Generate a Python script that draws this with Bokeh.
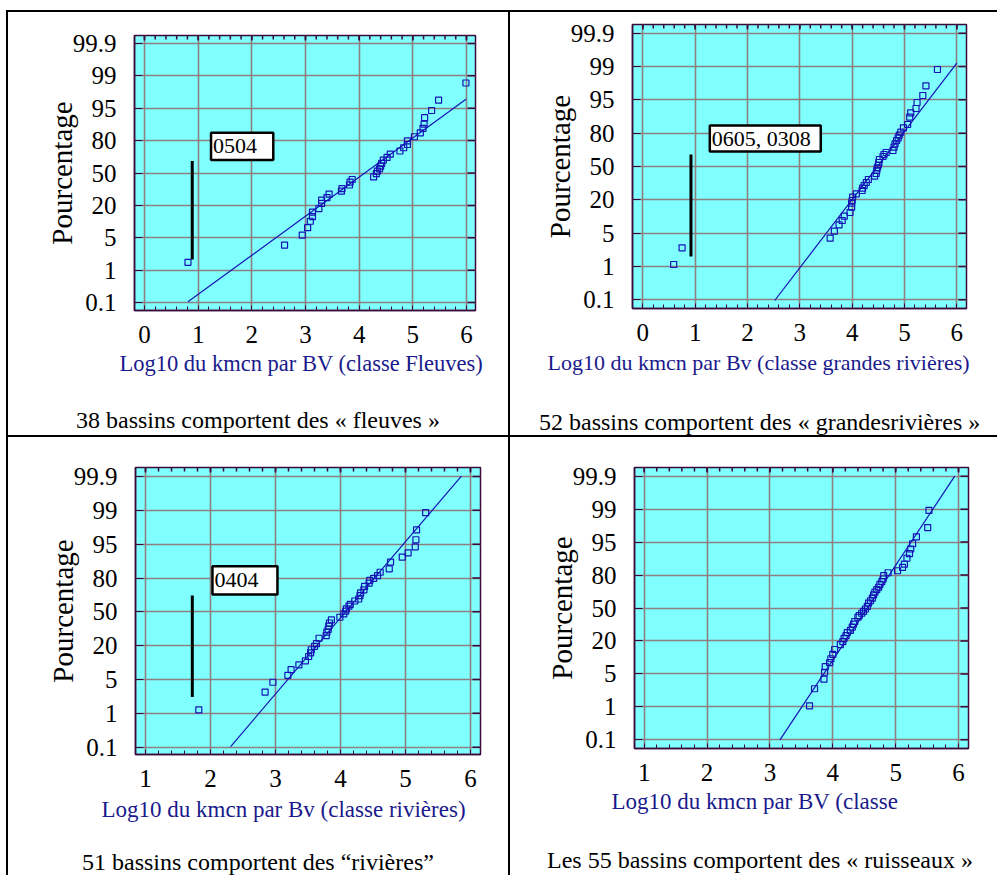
import numpy as np
from bokeh.plotting import figure
from bokeh.models import Range1d, FixedTicker, Title, Div, Spacer
from bokeh.layouts import column, row
from bokeh.embed import file_html
from bokeh.resources import INLINE
from bokeh.core.properties import value

# ---------------- data ----------------
# probability-paper axis: evenly spaced percentage ticks (position 0 .. 8)
prob_ticks = [0, 1, 2, 3, 4, 5, 6, 7, 8]
prob_labels = ["0.1", "1", "5", "20", "50", "80", "95", "99", "99.9"]

# Fleuves
fleuves_x = [0.81, 2.61, 2.94, 3.04, 3.09, 3.13, 3.13, 3.25, 3.30, 3.30, 3.40, 3.44, 3.67, 3.68,
             3.82, 3.83, 3.87, 4.27, 4.32, 4.34, 4.38, 4.40, 4.42, 4.45, 4.52, 4.58, 4.76, 4.83,
             4.90, 4.90, 5.03, 5.14, 5.19, 5.21, 5.22, 5.35, 5.48, 5.99]
fleuves_p = [1.24, 1.77, 2.08, 2.31, 2.51, 2.65, 2.79, 2.90, 3.06, 3.16, 3.24, 3.35, 3.44, 3.52,
             3.63, 3.72, 3.80, 3.88, 3.98, 4.06, 4.13, 4.21, 4.30, 4.40, 4.48, 4.58, 4.68, 4.78,
             4.88, 4.99, 5.12, 5.24, 5.38, 5.51, 5.71, 5.93, 6.25, 6.78]
fleuves_fit_x = [0.81, 5.99]
fleuves_fit_p = [0.02, 6.28]
fleuves_bar_x = [0.89, 0.89]
fleuves_bar_p = [1.33, 4.37]
fleuves_note = "0504"
fleuves_note_box = [1.24, 2.40, 4.40, 5.24]   # left, right, bottom, top

# Grandes rivieres
grandes_x = [0.59, 0.75, 3.58, 3.66, 3.75, 3.81, 3.85, 3.96, 3.99, 3.99, 4.00, 4.01, 4.08, 4.19,
             4.20, 4.23, 4.27, 4.31, 4.43, 4.46, 4.47, 4.48, 4.50, 4.51, 4.52, 4.59, 4.61, 4.65,
             4.78, 4.80, 4.82, 4.85, 4.88, 4.90, 4.93, 4.98, 5.06, 5.10, 5.12, 5.22, 5.24, 5.35,
             5.41, 5.63]
grandes_p = [1.06, 1.56, 1.85, 2.06, 2.25, 2.38, 2.51, 2.62, 2.78, 2.90, 2.98, 3.08, 3.18, 3.28,
             3.35, 3.43, 3.52, 3.61, 3.71, 3.79, 3.88, 3.96, 4.04, 4.12, 4.21, 4.30, 4.36, 4.42,
             4.48, 4.58, 4.68, 4.78, 4.86, 4.94, 5.03, 5.16, 5.26, 5.48, 5.61, 5.74, 5.92, 6.13,
             6.42, 6.91]
grandes_fit_x = [2.52, 6.00]
grandes_fit_p = [-0.02, 7.10]
grandes_bar_x = [0.92, 0.92]
grandes_bar_p = [1.30, 4.36]
grandes_note = "0605, 0308"
grandes_note_box = [1.28, 3.40, 4.45, 5.23]

# Rivieres
rivieres_x = [1.82, 2.84, 2.96, 3.19, 3.24, 3.36, 3.46, 3.51, 3.54, 3.55, 3.60, 3.63, 3.67, 3.78,
              3.79, 3.81, 3.82, 3.83, 3.86, 3.99, 4.05, 4.08, 4.09, 4.13, 4.15, 4.22, 4.28, 4.30,
              4.31, 4.36, 4.37, 4.44, 4.45, 4.51, 4.57, 4.61, 4.75, 4.77, 4.95, 5.04, 5.15, 5.16,
              5.17, 5.31]
rivieres_p = [1.10, 1.63, 1.92, 2.12, 2.29, 2.43, 2.55, 2.68, 2.79, 2.88, 2.98, 3.06, 3.22, 3.30,
              3.40, 3.48, 3.58, 3.67, 3.76, 3.84, 3.94, 4.02, 4.09, 4.17, 4.22, 4.32, 4.38, 4.48,
              4.56, 4.65, 4.75, 4.85, 4.93, 4.99, 5.07, 5.17, 5.27, 5.47, 5.62, 5.74, 5.92, 6.13,
              6.42, 6.93]
rivieres_fit_x = [2.31, 5.86]
rivieres_fit_p = [0.02, 8.01]
rivieres_bar_x = [1.72, 1.72]
rivieres_bar_p = [1.48, 4.48]
rivieres_note = "0404"
rivieres_note_box = [2.03, 3.03, 4.51, 5.35]

# Ruisseaux
ruisseaux_x = [3.63, 3.71, 3.86, 3.87, 3.88, 3.95, 3.97, 4.00, 4.03, 4.12, 4.16, 4.18, 4.21, 4.23,
               4.28, 4.31, 4.33, 4.35, 4.40, 4.42, 4.46, 4.49, 4.52, 4.55, 4.57, 4.60, 4.63, 4.65,
               4.67, 4.70, 4.73, 4.75, 4.78, 4.80, 4.81, 4.88, 5.03, 5.11, 5.14, 5.18, 5.22, 5.24,
               5.27, 5.33, 5.51, 5.53]
ruisseaux_p = [1.03, 1.55, 1.84, 2.05, 2.22, 2.34, 2.46, 2.59, 2.74, 2.89, 2.98, 3.08, 3.16, 3.25,
               3.32, 3.42, 3.51, 3.59, 3.72, 3.77, 3.84, 3.90, 3.97, 4.05, 4.15, 4.22, 4.30, 4.40,
               4.48, 4.56, 4.63, 4.72, 4.80, 4.88, 4.98, 5.07, 5.13, 5.23, 5.33, 5.51, 5.65, 5.79,
               5.95, 6.16, 6.44, 6.96]
ruisseaux_fit_x = [3.16, 5.94]
ruisseaux_fit_p = [0.00, 8.00]

x_title_fleuves = "Log10 du kmcn par BV (classe Fleuves)"
x_title_grandes = "Log10 du kmcn par Bv (classe grandes rivières)"
x_title_rivieres = "Log10 du kmcn par Bv (classe rivières)"
x_title_ruisseaux = "Log10 du kmcn par BV (classe"
y_title = "Pourcentage"
cap_fleuves = "38 bassins comportent des « fleuves »"
cap_grandes = "52 bassins comportent des « grandesrivières »"
cap_rivieres = "51 bassins comportent des “rivières”"
cap_ruisseaux = "Les 55 bassins comportent des « ruisseaux »"

# ---------------- style ----------------
SERIF = "Liberation Serif"
FRAME = "#3a0a3a"
GRID = "#8c8080"
CYAN = "#80ffff"
NAVY = "#1a1a8c"
BLUE = "#1414b4"


def make_panel(x, pv, fit_x, fit_p, xtitle, xticks, geo,
               bar_x=None, bar_p=None, note=None, note_box=None):
    p = figure(width=geo["w"], height=geo["h"], output_backend="svg", toolbar_location=None,
               x_range=Range1d(*geo["xr"]), y_range=Range1d(*geo["yr"]),
               min_border_left=geo["ml"], min_border_right=geo["mr"],
               min_border_top=geo["mt"], min_border_bottom=geo["mb"],
               background_fill_color=CYAN, border_fill_color="white")
    p.outline_line_color = FRAME
    p.outline_line_width = 1.5

    x0, x1 = geo["xr"]
    y0, y1 = geo["yr"]
    minor = [m for m in np.round(np.arange(xticks[0] - 1, xticks[-1] + 1.01, 0.2), 2).tolist()
             if x0 < m < x1]
    xticker = FixedTicker(ticks=list(xticks), minor_ticks=minor)
    yticker = FixedTicker(ticks=prob_ticks, minor_ticks=[])

    xa = p.xaxis[0]
    xa.ticker = xticker
    xa.axis_line_color = FRAME
    xa.axis_line_width = 1.5
    xa.major_tick_in = 5
    xa.major_tick_out = 0
    xa.minor_tick_in = 4
    xa.minor_tick_out = 0
    xa.major_tick_line_color = FRAME
    xa.minor_tick_line_color = FRAME
    xa.major_label_text_font = SERIF
    xa.major_label_text_font_size = "25px"
    xa.major_label_text_color = "black"
    xa.major_label_standoff = 15

    ya = p.yaxis[0]
    ya.ticker = yticker
    ya.major_label_overrides = {t: lab for t, lab in zip(prob_ticks, prob_labels)}
    ya.axis_line_color = FRAME
    ya.axis_line_width = 1.5
    ya.major_tick_in = 8
    ya.major_tick_out = 0
    ya.minor_tick_line_color = None
    ya.major_tick_line_color = FRAME
    ya.major_label_text_font = SERIF
    ya.major_label_text_font_size = "25px"
    ya.major_label_text_color = "black"
    ya.major_label_standoff = 18
    ya.axis_label = y_title
    ya.axis_label_text_font = SERIF
    ya.axis_label_text_font_size = "29px"
    ya.axis_label_text_font_style = "normal"
    ya.axis_label_text_color = "black"
    ya.axis_label_standoff = -8

    p.xgrid.ticker = xticker
    p.ygrid.ticker = yticker
    for g in (p.xgrid[0], p.ygrid[0]):
        g.grid_line_color = GRID
        g.grid_line_width = 1.6
        g.grid_line_alpha = 1.0

    # inward ticks on the top and right edges of the frame
    major_in = [t for t in xticks if x0 < t < x1]
    p.ray(x=major_in, y=[y1] * len(major_in), length=5, angle=-np.pi / 2,
          length_units="screen", line_color=FRAME, line_width=1.5)
    p.ray(x=minor, y=[y1] * len(minor), length=4, angle=-np.pi / 2,
          length_units="screen", line_color=FRAME, line_width=1.5)
    p.ray(x=[x1] * len(prob_ticks), y=prob_ticks, length=8, angle=np.pi,
          length_units="screen", line_color=FRAME, line_width=1.5)

    p.line(fit_x, fit_p, line_color=BLUE, line_width=1.2)
    p.scatter(x, pv, marker="square", size=6, fill_color=None, line_color=BLUE, line_width=1.2)

    if bar_x is not None:
        p.line(bar_x, bar_p, line_color="black", line_width=3)
    if note is not None:
        l, r, b, t = note_box
        p.quad(left=[l], right=[r], bottom=[b], top=[t], fill_color="white",
               line_color="black", line_width=2.5)
        p.text(x=[l], y=[(b + t) / 2], text=[note], text_font=value(SERIF),
               text_font_size="22px", text_baseline="middle", text_align="left",
               x_offset=2, text_color="black")

    # x-axis title below the tick labels
    p.add_layout(Title(text=xtitle, align="left", offset=geo["xto"], standoff=geo["xso"],
                       text_font=SERIF, text_font_size=geo["xts"], text_font_style="normal",
                       text_color=NAVY), "below")
    return p


def caption_div(text, width, height, indent):
    html = (f'<div style="font-family:\'Liberation Serif\';font-size:24px;line-height:24px;'
            f'color:#000;white-space:nowrap;margin-left:{indent}px">{text}</div>')
    return Div(text=html, width=width, height=height, margin=0, styles={"overflow": "hidden"})


geo1 = dict(w=500, h=396, ml=126, mr=33, mt=23, mb=98, xr=(-0.186, 6.168), yr=(-0.247, 8.247),
            xts="22.5px", xto=-15, xso=6)
geo2 = dict(w=487, h=398, ml=122, mr=31, mt=12, mb=102, xr=(-0.197, 6.185), yr=(-0.26, 8.26),
            xts="22px", xto=-85, xso=9)
geo3 = dict(w=500, h=413, ml=127, mr=28, mt=30, mb=96, xr=(0.846, 6.154), yr=(-0.216, 8.266),
            xts="23px", xto=-34, xso=10)
geo4 = dict(w=487, h=411, ml=124, mr=29, mt=30, mb=100, xr=(0.846, 6.159), yr=(-0.264, 8.264),
            xts="23px", xto=-23, xso=6)

f1 = make_panel(fleuves_x, fleuves_p, fleuves_fit_x, fleuves_fit_p, x_title_fleuves,
                [0, 1, 2, 3, 4, 5, 6], geo1, fleuves_bar_x, fleuves_bar_p, fleuves_note, fleuves_note_box)
f2 = make_panel(grandes_x, grandes_p, grandes_fit_x, grandes_fit_p, x_title_grandes,
                [0, 1, 2, 3, 4, 5, 6], geo2, grandes_bar_x, grandes_bar_p, grandes_note, grandes_note_box)
f3 = make_panel(rivieres_x, rivieres_p, rivieres_fit_x, rivieres_fit_p, x_title_rivieres,
                [1, 2, 3, 4, 5, 6], geo3, rivieres_bar_x, rivieres_bar_p, rivieres_note, rivieres_note_box)
f4 = make_panel(ruisseaux_x, ruisseaux_p, ruisseaux_fit_x, ruisseaux_fit_p, x_title_ruisseaux,
                [1, 2, 3, 4, 5, 6], geo4)

c1 = caption_div(cap_fleuves, 500, 27, 68)
c2 = caption_div(cap_grandes, 487, 25, 29)
c3 = caption_div(cap_rivieres, 500, 25, 74)
c4 = caption_div(cap_ruisseaux, 487, 27, 37)


def blank(w, h):
    return Spacer(width=w, height=h, margin=0)


def hline(w):
    return Spacer(width=w, height=2, margin=0, styles={"background-color": "#000000"})


def vline(h):
    return Spacer(width=2, height=h, margin=0, styles={"background-color": "#000000"})


layout = column(
    blank(997, 10),
    row(blank(6, 2), hline(991)),
    row(blank(6, 423), vline(423), column(f1, c1), vline(423), column(f2, c2)),
    row(blank(6, 2), hline(991)),
    row(blank(6, 438), vline(438), column(f3, c3), vline(438), column(f4, c4)),
)

open("out.html", "w").write(file_html(layout, INLINE))
